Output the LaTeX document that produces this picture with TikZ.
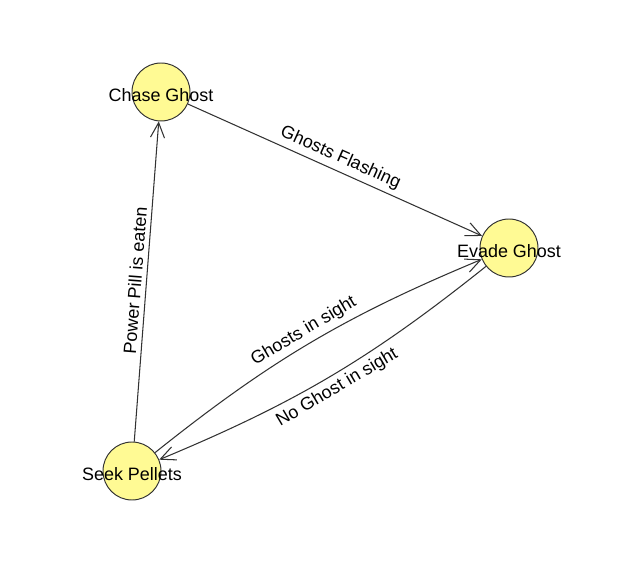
\documentclass[tikz,border=0pt]{standalone}
\usepackage{fontspec}
\setmainfont{Liberation Sans}
\usepackage{xcolor}
\usetikzlibrary{arrows.meta,positioning}
\definecolor{statefill}{RGB}{255,250,148}
\definecolor{edgegray}{RGB}{50,50,50}

\begin{document}
\begin{tikzpicture}[>={Straight Barb[length=3mm,width=2.8mm]}]
  \tikzstyle{state}=[circle, draw=edgegray, line width=0.55pt, fill=statefill, minimum size=1.16cm, inner sep=0pt]
  \tikzstyle{statetext}=[font=\fontsize{10.2}{12}\selectfont, inner sep=0pt, yshift=-0.07cm]
  \tikzstyle{trans}=[->, draw=edgegray, line width=0.6pt]
  \tikzstyle{translabel}=[font=\fontsize{10.2}{12}\selectfont, sloped, inner sep=2.5pt]

  \useasboundingbox (0,0) rectangle (12.44,-11.3);

  % Estados
  \node[state] (chase) at (3.22,-1.84) {};
  \node[state] (evade) at (10.18,-4.96) {};
  \node[state] (seek) at (2.64,-9.42) {};

  \node[statetext] at (chase) {Chase Ghost};
  \node[statetext] at (evade) {Evade Ghost};
  \node[statetext] at (seek) {Seek Pellets};

  % Transiciones
  \draw[trans] (seek) -- node[translabel, above] {Power Pill is eaten} (chase);
  \draw[trans] (chase) -- node[translabel, above] {Ghosts Flashing} (evade);
  \draw[trans] (seek) to[bend left=8] node[translabel, above] {Ghosts in sight} (evade);
  \draw[trans] (evade) to[bend left=8] node[translabel, below] {No Ghost in sight} (seek);
\end{tikzpicture}
\end{document}
